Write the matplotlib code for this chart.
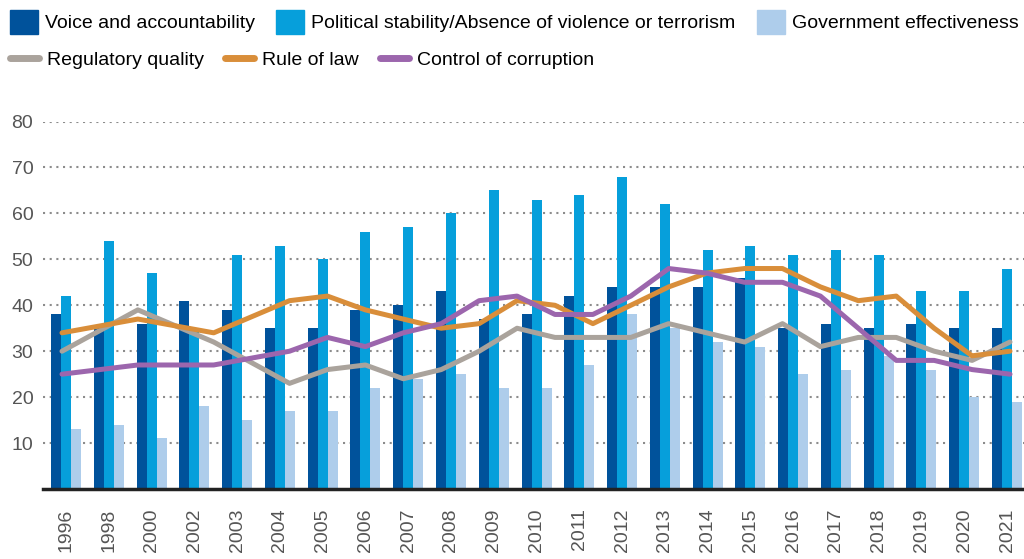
import matplotlib
matplotlib.use("Agg")
import matplotlib.pyplot as plt
from matplotlib.patches import Patch
from matplotlib.lines import Line2D
import numpy as np

plt.rcParams["font.family"] = ["Liberation Sans Narrow", "Liberation Sans", "DejaVu Sans"]

years = [1996, 1998, 2000, 2002, 2003, 2004, 2005, 2006, 2007, 2008, 2009, 2010,
         2011, 2012, 2013, 2014, 2015, 2016, 2017, 2018, 2019, 2020, 2021]

# bars
voice = [38, 35, 36, 41, 39, 35, 35, 39, 40, 43, 37, 38, 42, 44, 44, 44, 46, 35, 36, 35, 36, 35, 35]
political = [42, 54, 47, 35, 51, 53, 50, 56, 57, 60, 65, 63, 64, 68, 62, 52, 53, 51, 52, 51, 43, 43, 48]
gov_eff = [13, 14, 11, 18, 15, 17, 17, 22, 24, 25, 22, 22, 27, 38, 35, 32, 31, 25, 26, 29, 26, 20, 19]

# lines
regulatory = [30, 39, 32, 23, 26, 27, 24, 26, 30, 35, 33, 33, 33, 36, 34, 32, 36, 31, 33, 33, 30, 28, 32]
rule_of_law = [34, 37, 34, 41, 42, 39, 37, 35, 36, 41, 40, 36, 40, 44, 47, 48, 48, 44, 41, 42, 35, 29, 30]
corruption = [25, 27, 27, 30, 33, 31, 34, 36, 41, 42, 38, 38, 42, 48, 47, 45, 45, 42, 35, 28, 28, 26, 25]

c_voice = "#00529b"
c_pol = "#069fdb"
c_gov = "#aecdeb"
c_reg = "#aaa39c"
c_law = "#d98e3a"
c_cor = "#9c66ad"

fig = plt.figure(figsize=(10.24, 5.59), dpi=100)
ax = fig.add_axes([0.042, 0.1252, 0.958, 0.6574])

x = np.arange(len(years))
w = 0.234
ax.bar(x - w, voice, w, color=c_voice, zorder=2)
ax.bar(x, political, w, color=c_pol, zorder=2)
ax.bar(x + w, gov_eff, w, color=c_gov, zorder=2)

ax.set_xlim(-0.538, 22.397)
ax.set_ylim(0, 80)
ax.set_yticks(range(10, 81, 10))
ax.set_xticks(x)
ax.set_xticklabels([str(y) for y in years], rotation=90, fontsize=14, color="#555555")
ax.tick_params(axis="x", length=0, pad=14)
ax.tick_params(axis="y", length=0, pad=7, labelsize=14, labelcolor="#555555")
ax.grid(axis="y", color="#8c8c8c", linestyle=(0, (1, 2.2)), linewidth=1.5, zorder=0)
ax.set_axisbelow(True)
for s in ["top", "left", "right"]:
    ax.spines[s].set_visible(False)
ax.spines["bottom"].set_linewidth(2.5)
ax.spines["bottom"].set_color("#222222")
ax.spines["bottom"].set_zorder(5)

# lines sit on a yearly scale, not on the bar categories
ax2 = ax.twiny()
ax2.set_xlim(1995.499, 2021.369)
ax2.set_axis_off()
for vals, col in [(regulatory, c_reg), (rule_of_law, c_law), (corruption, c_cor)]:
    ax2.plot(years, vals, color=col, linewidth=3.6, solid_capstyle="round",
             solid_joinstyle="round", zorder=3)

bar_handles = [Patch(color=c_voice), Patch(color=c_pol), Patch(color=c_gov)]
bar_labels = ["Voice and accountability",
              "Political stability/Absence of violence or terrorism",
              "Government effectiveness"]
fig.legend(bar_handles, bar_labels, loc="upper left", bbox_to_anchor=(0.0, 1.0),
           ncol=3, frameon=False, fontsize=14, handlelength=1.45, handleheight=1.55,
           handletextpad=0.35, columnspacing=1.1, borderaxespad=0.3, borderpad=0.2)

line_handles = [Line2D([0], [0], color=c, linewidth=5, solid_capstyle="round")
                for c in (c_reg, c_law, c_cor)]
fig.legend(line_handles, ["Regulatory quality", "Rule of law", "Control of corruption"],
           loc="upper left", bbox_to_anchor=(0.0, 0.925), ncol=3, frameon=False,
           fontsize=14, handlelength=1.5, handletextpad=0.4, columnspacing=1.1,
           borderaxespad=0.3, borderpad=0.2)

fig.savefig("out.png", dpi=100)
